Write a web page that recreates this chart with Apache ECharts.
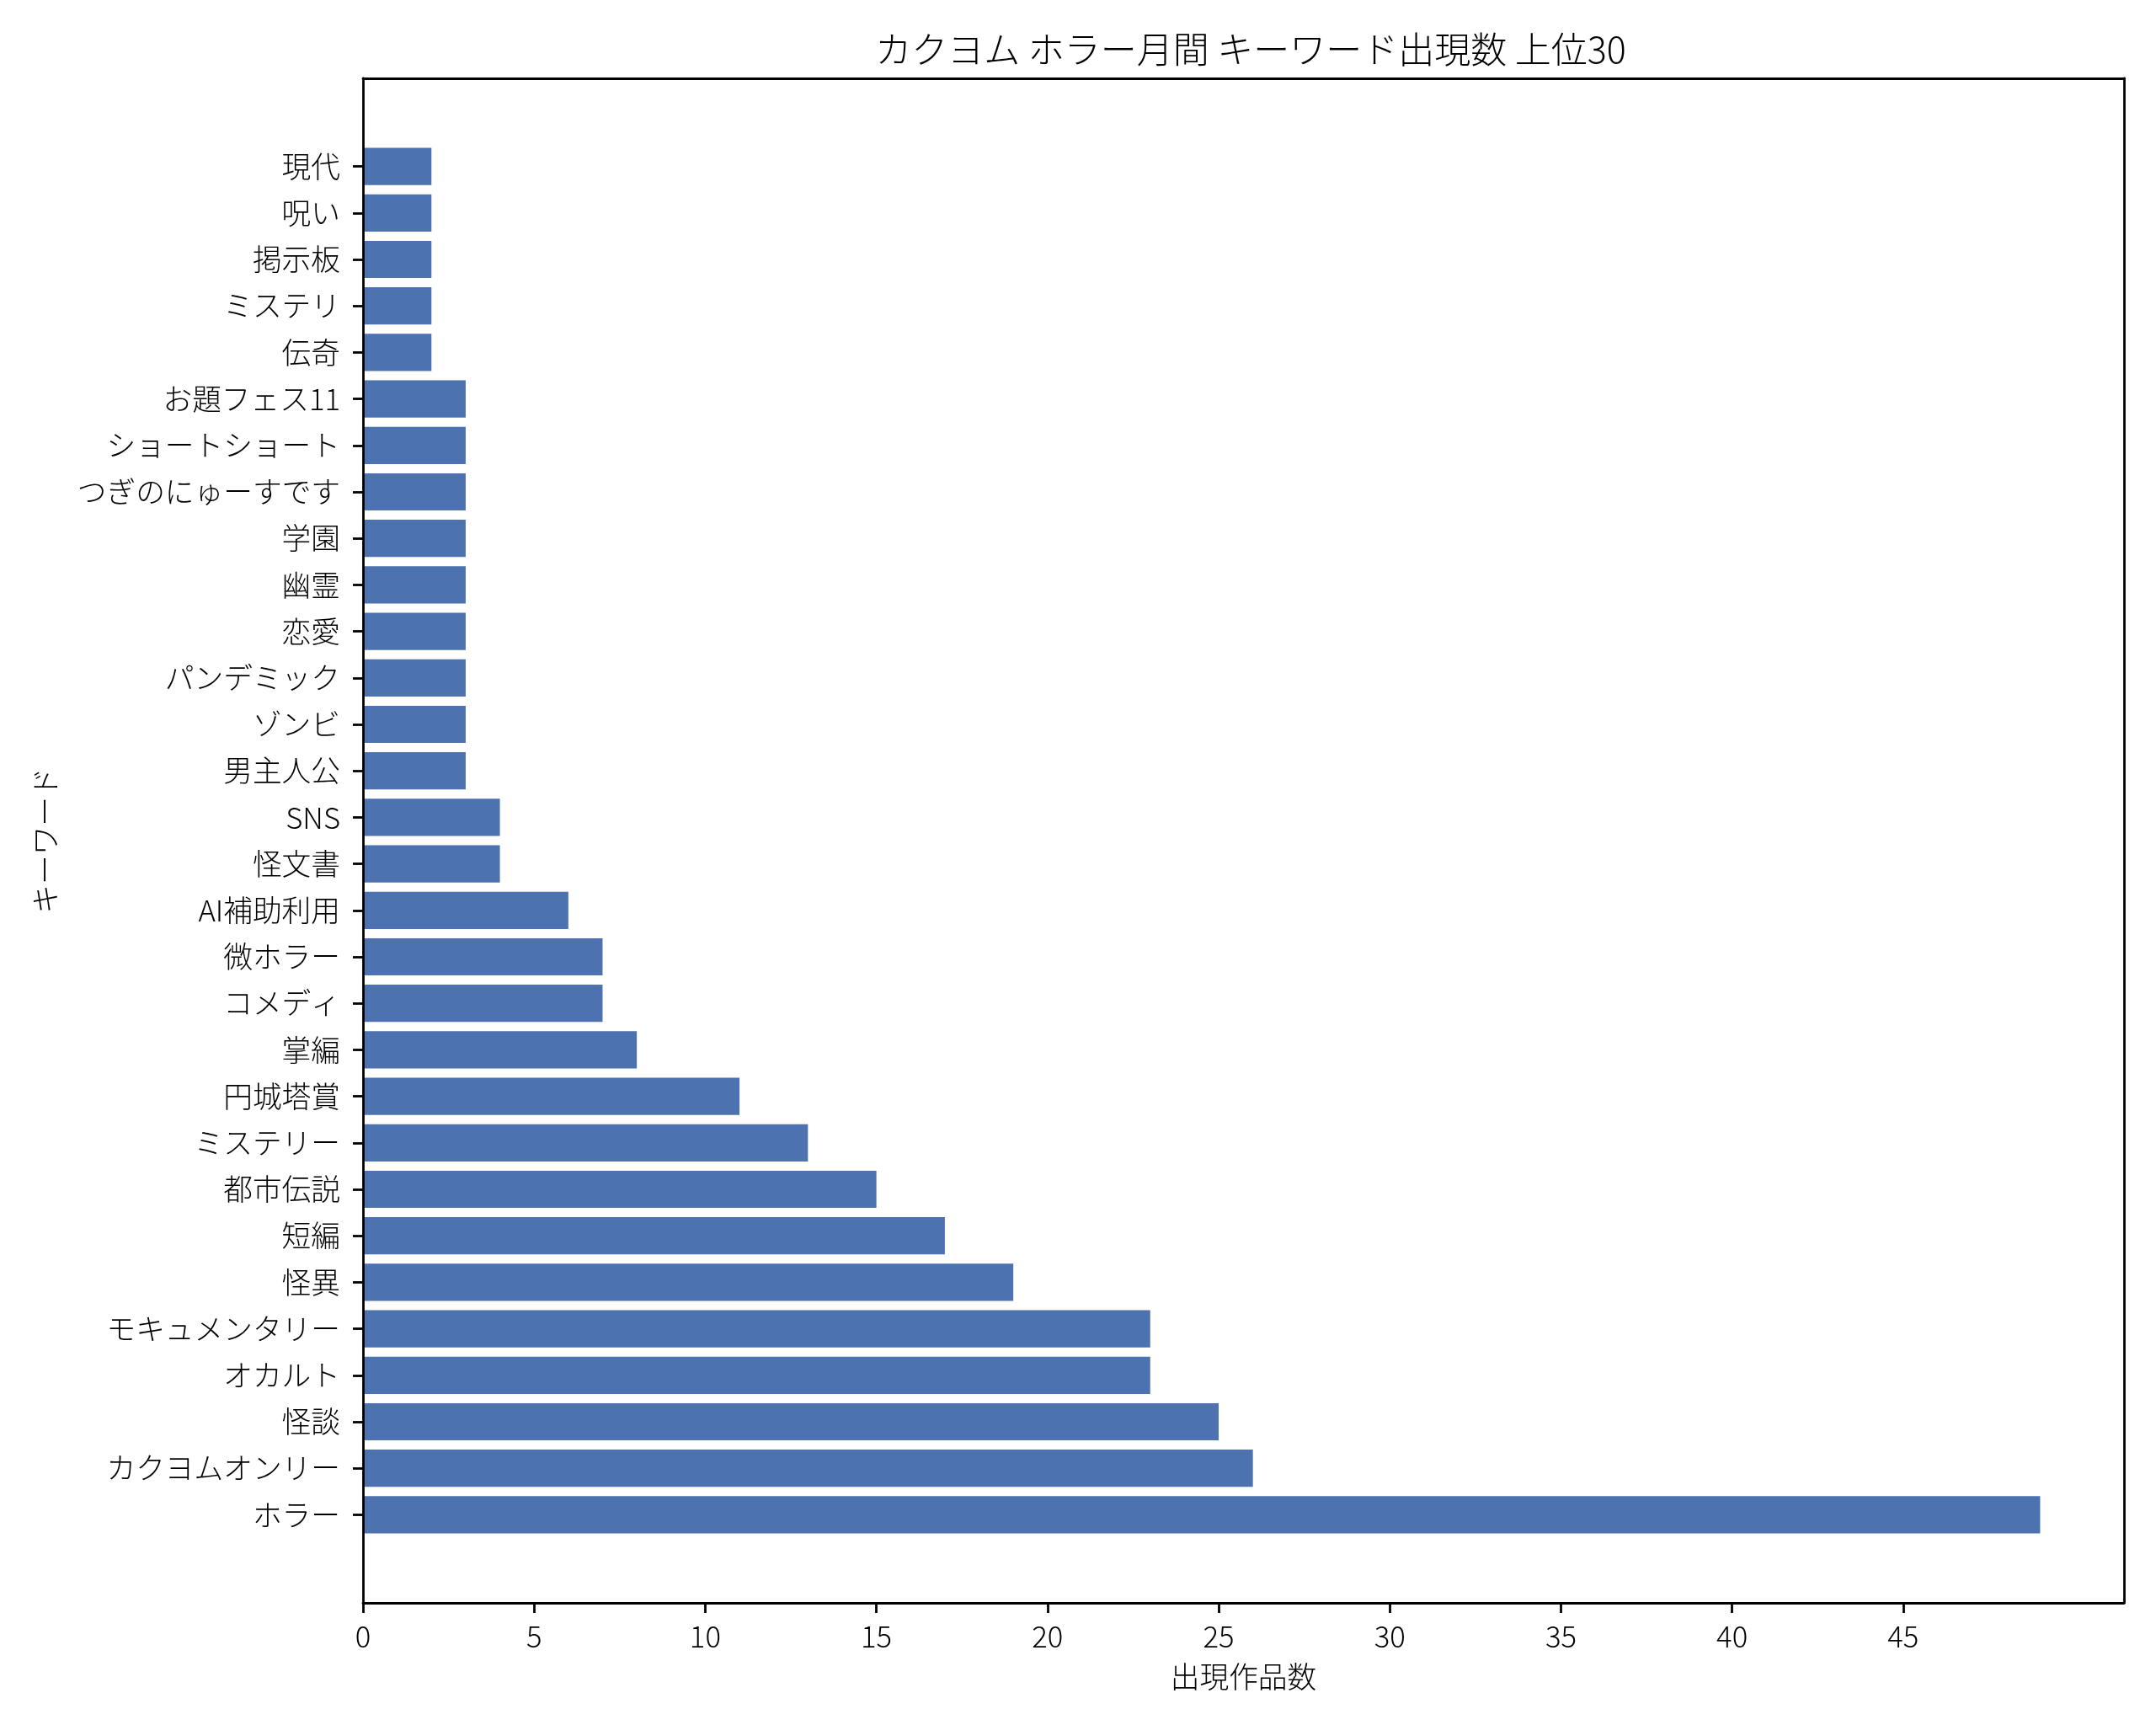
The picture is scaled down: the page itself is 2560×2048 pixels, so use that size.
<!DOCTYPE html>
<html>
<head>
<meta charset="utf-8">
<script src="https://cdn.jsdelivr.net/npm/echarts@6/dist/echarts.min.js"></script>
<style>html,body{margin:0;padding:0;background:#fff;}#c{width:2560px;height:2048px;}</style>
</head>
<body>
<div id="c"></div>
<script>
const categories = ['現代','呪い','掲示板','ミステリ','伝奇','お題フェス11','ショートショート','つぎのにゅーすです','学園','幽霊','恋愛','パンデミック','ゾンビ','男主人公','SNS','怪文書','AI補助利用','微ホラー','コメディ','掌編','円城塔賞','ミステリー','都市伝説','短編','怪異','モキュメンタリー','オカルト','怪談','カクヨムオンリー','ホラー'];
const counts = [2,2,2,2,2,3,3,3,3,3,3,3,3,3,4,4,6,7,7,8,11,13,15,17,19,23,23,25,26,49];
const xTicks = [0,5,10,15,20,25,30,35,40,45];
const titleText = 'カクヨム ホラー月間 キーワード出現数 上位30';
const xName = '出現作品数';
const yName = 'キーワード';

const FONT = 'Noto Sans CJK JP';
const FW = 300;
const LW = 2.8;
const xMax = Math.max(...counts) * 1.05;
const chart = echarts.init(document.getElementById('c'), null, {renderer: 'canvas'});
const frameLine = {show: true, onZero: false, lineStyle: {color: '#000', width: LW}};
chart.setOption({
  animation: false,
  backgroundColor: '#fff',
  textStyle: {fontFamily: FONT, fontWeight: FW},
  title: {
    text: titleText, left: 1480, top: 32, textAlign: 'center',
    textStyle: {fontFamily: FONT, fontSize: 43, fontWeight: FW, color: '#000'}
  },
  grid: [
    {left: 431, right: 38, top: 93, bottom: 145},
    {left: 431, right: 38, top: 170, bottom: 222}
  ],
  xAxis: [
    {gridIndex: 0, type: 'value', min: 0, max: xMax, position: 'bottom', z: 10,
     axisLine: frameLine, splitLine: {show: false},
     axisTick: {show: true, length: 12, lineStyle: {color: '#000', width: LW}, customValues: xTicks},
     axisLabel: {customValues: xTicks, fontSize: 34.7, color: '#000', margin: 22, fontFamily: FONT, fontWeight: FW},
     name: xName, nameLocation: 'middle', nameGap: 70,
     nameTextStyle: {fontSize: 34.7, color: '#000', fontFamily: FONT, fontWeight: FW}},
    {gridIndex: 0, type: 'value', min: 0, max: xMax, position: 'top', z: 10,
     axisLine: frameLine, axisTick: {show: false}, axisLabel: {show: false}, splitLine: {show: false}},
    {gridIndex: 1, type: 'value', min: 0, max: xMax, show: false}
  ],
  yAxis: [
    {gridIndex: 0, type: 'value', min: 0, max: 1, position: 'left', z: 10,
     axisLine: frameLine, axisTick: {show: false}, axisLabel: {show: false}, splitLine: {show: false},
     name: yName, nameLocation: 'middle', nameRotate: 90, nameGap: 360,
     nameTextStyle: {fontSize: 34.7, color: '#000', fontFamily: FONT, fontWeight: FW}},
    {gridIndex: 0, type: 'value', min: 0, max: 1, position: 'right', z: 10,
     axisLine: frameLine, axisTick: {show: false}, axisLabel: {show: false}, splitLine: {show: false}},
    {gridIndex: 1, type: 'category', inverse: true, data: categories,
     axisLine: {show: false},
     axisTick: {show: true, alignWithLabel: true, length: 12, lineStyle: {color: '#000', width: LW}},
     axisLabel: {fontSize: 34.7, color: '#000', margin: 27, fontFamily: FONT, fontWeight: FW, interval: 0},
     splitLine: {show: false}}
  ],
  series: [{
    type: 'bar', xAxisIndex: 2, yAxisIndex: 2, data: counts,
    barCategoryGap: '20%', itemStyle: {color: '#4c72b0'}
  }]
});
</script>
</body>
</html>
